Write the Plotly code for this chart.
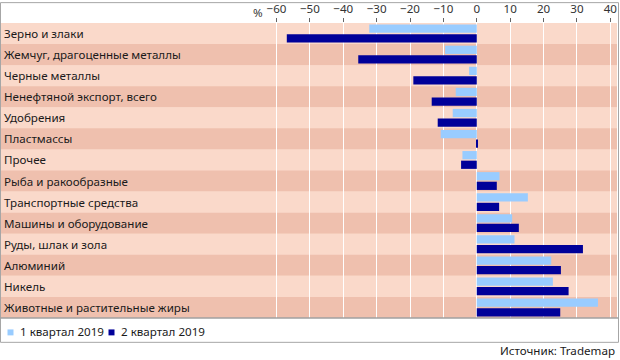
import plotly.graph_objects as go

categories = [
    "Зерно и злаки",
    "Жемчуг, драгоценные металлы",
    "Черные металлы",
    "Ненефтяной экспорт, всего",
    "Удобрения",
    "Пластмассы",
    "Прочее",
    "Рыба и ракообразные",
    "Транспортные средства",
    "Машины и оборудование",
    "Руды, шлак и зола",
    "Алюминий",
    "Никель",
    "Животные и растительные жиры",
]
q1_2019 = [-32.2, -9.5, -2.3, -6.3, -7.2, -10.8, -4.3, 6.8, 15.3, 10.6, 11.3, 22.3, 22.8, 36.3]
q2_2019 = [-56.9, -35.5, -19.0, -13.5, -11.7, 0.3, -4.7, 6.0, 6.7, 12.6, 31.8, 25.2, 27.5, 25.0]
series_names = ["1 квартал 2019", "2 квартал 2019"]
tick_values = [-60, -50, -40, -30, -20, -10, 0, 10, 20, 30, 40]
source_text = "Источник: Trademap"

LIGHT = "#99CCFF"
DARK = "#000099"
BAND_LIGHT = "#FAD9CA"
BAND_DARK = "#EFC0AE"
FONT = "Noto Sans"
FS = 11.6

W, H = 620, 360
ML, MR, MT, MB = 1, 3, 21, 42
PW, PH = W - ML - MR, H - MT - MB


def px(xp):
    return (xp - ML) / PW


def py(yp):
    return (H - MB - yp) / PH


fig = go.Figure()
fig.add_trace(go.Bar(y=categories, x=q1_2019, orientation="h", name=series_names[0],
                     marker=dict(color=LIGHT, line=dict(width=0)), showlegend=False))
fig.add_trace(go.Bar(y=categories, x=q2_2019, orientation="h", name=series_names[1],
                     marker=dict(color=DARK, line=dict(width=0)), showlegend=False))

shapes = []
for i in range(len(categories)):
    shapes.append(dict(type="rect", xref="paper", yref="y", x0=0, x1=1,
                       y0=i - 0.5, y1=i + 0.5, layer="below", line=dict(width=0),
                       fillcolor=BAND_LIGHT if i % 2 == 0 else BAND_DARK))
# outer frame
shapes.append(dict(type="rect", xref="paper", yref="paper", x0=px(0.5), x1=px(618.5),
                   y0=py(342.5), y1=py(0.5), line=dict(color="#A6A6A6", width=1), layer="above"))
# plot bottom line
shapes.append(dict(type="line", xref="paper", yref="paper", x0=px(0.5), x1=px(618.5),
                   y0=0, y1=0, line=dict(color="#A0A0A0", width=1.5), layer="above"))
# legend squares
for xs, col in [(7.5, LIGHT), (108.5, DARK)]:
    shapes.append(dict(type="rect", xref="paper", yref="paper", x0=px(xs), x1=px(xs + 6),
                       y0=py(335.5), y1=py(329.5), line=dict(width=0), fillcolor=col, layer="above"))

annotations = []
for c in categories:
    annotations.append(dict(text=c, xref="paper", yref="y", x=px(2), y=c, xanchor="left",
                            yanchor="middle", showarrow=False,
                            font=dict(family=FONT, size=FS, color="#1A1A1A")))
annotations.append(dict(text="%", xref="paper", yref="paper", x=px(258), y=py(10),
                        xanchor="center", yanchor="middle", showarrow=False,
                        font=dict(family=FONT, size=FS, color="#333333")))
for xs, name in [(18, series_names[0]), (119, series_names[1])]:
    annotations.append(dict(text=name, xref="paper", yref="paper", x=px(xs), y=py(332),
                            xanchor="left", yanchor="middle", showarrow=False,
                            font=dict(family=FONT, size=FS, color="#1A1A1A")))
annotations.append(dict(text=source_text, xref="paper", yref="paper", x=px(617.5), y=py(351),
                        xanchor="right", yanchor="middle", showarrow=False,
                        font=dict(family=FONT, size=FS, color="#1A1A1A")))

fig.update_layout(
    width=W, height=H,
    margin=dict(l=ML, r=MR, t=MT, b=MB, pad=0),
    paper_bgcolor="white", plot_bgcolor=BAND_LIGHT,
    barmode="group", bargap=0.09, bargroupgap=0.14,
    showlegend=False,
    shapes=shapes, annotations=annotations,
    xaxis=dict(side="top", range=[-142.5, 42.0], tickvals=tick_values,
               ticks="outside", ticklen=4, tickcolor="#666666", tickwidth=1,
               showgrid=True, gridcolor="white", gridwidth=1, zeroline=False,
               showline=False, tickfont=dict(family=FONT, size=FS, color="#333333")),
    yaxis=dict(autorange="reversed", showticklabels=False, showgrid=False,
               zeroline=False, showline=False, ticks=""),
)

fig.write_html("out.html", config={"displayModeBar": False},
               post_script="document.body.style.margin='0';document.body.style.padding='0';")
